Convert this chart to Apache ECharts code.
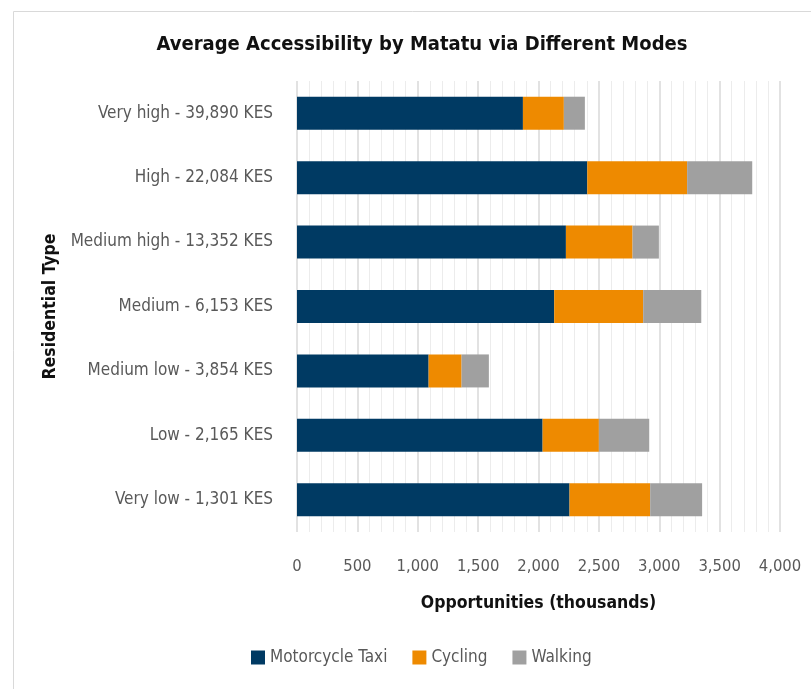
<!DOCTYPE html>
<html>
<head>
<meta charset="utf-8">
<script src="https://cdn.jsdelivr.net/npm/echarts@6/dist/echarts.min.js"></script>
<style>
  html, body { margin: 0; padding: 0; background: #fff; }
  #chart { width: 811px; height: 689px; }
</style>
</head>
<body>
<div id="chart"></div>
<script>
// residential types, top to bottom
const categories = [
  'Very high - 39,890 KES',
  'High - 22,084 KES',
  'Medium high - 13,352 KES',
  'Medium - 6,153 KES',
  'Medium low - 3,854 KES',
  'Low - 2,165 KES',
  'Very low - 1,301 KES'
];
// opportunities (thousands)
const motorcycleTaxi = [1871, 2404, 2227, 2130, 1090, 2034, 2257];
const cycling = [339, 827, 552, 737, 273, 466, 668];
const walking = [174, 539, 218, 481, 226, 417, 430];

const font = '"Liberation Sans Narrow", "DejaVu Sans Condensed", "Liberation Sans", sans-serif';
const colors = ['#003A63', '#EE8A00', '#A0A0A0'];

const chart = echarts.init(document.getElementById('chart'));

const barStyle = (name, data, color) => ({
  name: name,
  type: 'bar',
  stack: 'total',
  data: data,
  barWidth: 33,
  itemStyle: { color: color },
  emphasis: { disabled: true }
});

chart.setOption({
  animation: false,
  textStyle: { fontFamily: font },
  title: {
    text: 'Average Accessibility by Matatu via Different Modes',
    left: 417,
    textAlign: 'center',
    top: 30,
    textStyle: { fontFamily: font, fontSize: 20, fontWeight: 'bold', color: '#111' }
  },
  graphic: [{
    type: 'rect',
    left: 11, top: 9,
    shape: { width: 900, height: 800 },
    style: { fill: 'none', stroke: '#d9d9d9', lineWidth: 1 },
    silent: true
  }],
  legend: {
    bottom: 18,
    left: 246,
    icon: 'rect',
    itemWidth: 14,
    itemHeight: 14,
    itemGap: 25,
    textStyle: { fontFamily: font, fontSize: 17, color: '#595959' },
    data: ['Motorcycle Taxi', 'Cycling', 'Walking']
  },
  grid: { left: 297, right: 31, top: 81, bottom: 157, containLabel: false },
  xAxis: {
    type: 'value',
    min: 0,
    max: 4000,
    interval: 500,
    name: 'Opportunities (thousands)',
    nameLocation: 'middle',
    nameGap: 62,
    nameTextStyle: { fontFamily: font, fontSize: 17.5, fontWeight: 'bold', color: '#111' },
    axisLine: { show: false },
    axisTick: { show: false },
    axisLabel: {
      margin: 26,
      fontSize: 16.5,
      color: '#595959',
      formatter: v => v.toLocaleString('en-US')
    },
    splitLine: { show: true, lineStyle: { color: '#d9d9d9', width: 1.5 } },
    minorTick: { show: false, splitNumber: 5 },
    minorSplitLine: { show: true, lineStyle: { color: '#ececec', width: 1 } }
  },
  yAxis: {
    type: 'category',
    inverse: true,
    data: categories,
    name: 'Residential Type',
    nameLocation: 'middle',
    nameGap: 235,
    nameRotate: 90,
    nameTextStyle: { fontFamily: font, fontSize: 17.5, fontWeight: 'bold', color: '#111' },
    axisLine: { show: false },
    axisTick: { show: false },
    axisLabel: { margin: 24, fontSize: 17, color: '#595959' }
  },
  series: [
    barStyle('Motorcycle Taxi', motorcycleTaxi, colors[0]),
    barStyle('Cycling', cycling, colors[1]),
    barStyle('Walking', walking, colors[2])
  ]
});
</script>
</body>
</html>
